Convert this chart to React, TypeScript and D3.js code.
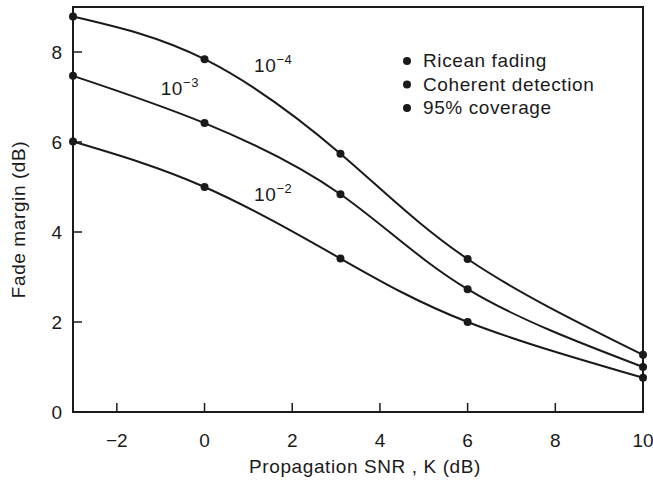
import React from "react";
import * as d3 from "d3";

const snrK = [-3, 0, 3.1, 6, 10];
const curve1e4 = [8.79, 7.84, 5.74, 3.4, 1.27];
const curve1e3 = [7.47, 6.42, 4.84, 2.73, 1.0];
const curve1e2 = [6.01, 5.0, 3.41, 2.0, 0.76];
const seriesExp = ["−4", "−3", "−2"];
const xTicks = [-2, 0, 2, 4, 6, 8, 10];
const yTicks = [0, 2, 4, 6, 8];
const legendItems = ["Ricean fading", "Coherent detection", "95% coverage"];

const W = 653;
const H = 484;
const left = 73;
const right = 643;
const top = 7;
const bottom = 412;
const font = "'Liberation Sans', Arial, Helvetica, sans-serif";
const ink = "#1a1a1a";
const ls = 0.6;

export default function App() {
  const x = d3.scaleLinear().domain([-3, 10]).range([left, right]);
  const y = d3.scaleLinear().domain([0, 9]).range([bottom, top]);
  const line = d3
    .line<number>()
    .x((_, i) => x(snrK[i]))
    .y((d) => y(d))
    .curve(d3.curveNatural);
  const series = [curve1e4, curve1e3, curve1e2];
  const labelPos = [
    { xv: 1.13, yv: 7.55 },
    { xv: -1.0, yv: 7.05 },
    { xv: 1.13, yv: 4.68 },
  ];
  return (
    <svg
      width={W}
      height={H}
      style={{ position: "absolute", left: 0, top: 0, background: "#fff" }}
      fontFamily={font}
    >
      <rect x={0} y={0} width={W} height={H} fill="#fff" />
      {series.map((s, k) => (
        <g key={k}>
          <path d={line(s) || ""} fill="none" stroke={ink} strokeWidth={2} />
          {s.map((v, i) => (
            <circle key={i} cx={x(snrK[i])} cy={y(v)} r={4} fill={ink} />
          ))}
        </g>
      ))}
      {series.map((_, k) => (
        <text
          key={k}
          x={x(labelPos[k].xv)}
          y={y(labelPos[k].yv)}
          fontSize={19}
          letterSpacing={ls}
          fill={ink}
        >
          10
          <tspan dy={-8} fontSize={13}>
            {seriesExp[k]}
          </tspan>
        </text>
      ))}
      <rect
        x={left}
        y={top}
        width={right - left}
        height={bottom - top}
        fill="none"
        stroke={ink}
        strokeWidth={2}
      />
      {xTicks.map((t) => (
        <g key={t}>
          <line x1={x(t)} x2={x(t)} y1={bottom} y2={bottom - 9} stroke={ink} strokeWidth={1.5} />
          <text x={x(t)} y={bottom + 35} textAnchor="middle" fontSize={19} fill={ink}>
            {t < 0 ? "−" + Math.abs(t) : String(t)}
          </text>
        </g>
      ))}
      {yTicks.map((t) => (
        <g key={t}>
          <line x1={left} x2={left + 9} y1={y(t)} y2={y(t)} stroke={ink} strokeWidth={1.5} />
          <text x={left - 11} y={y(t) + 7} textAnchor="end" fontSize={19} fill={ink}>
            {String(t)}
          </text>
        </g>
      ))}
      <text x={365} y={473} textAnchor="middle" fontSize={19} letterSpacing={ls} fill={ink}>
        Propagation SNR , K (dB)
      </text>
      <text
        transform={`translate(25, ${(top + bottom) / 2 + 10}) rotate(-90)`}
        textAnchor="middle"
        fontSize={19}
        letterSpacing={ls}
        fill={ink}
      >
        Fade margin (dB)
      </text>
      {legendItems.map((t, i) => (
        <g key={t}>
          <circle cx={407} cy={61 + i * 23.5} r={4} fill={ink} />
          <text x={423} y={67 + i * 23.5} fontSize={19} letterSpacing={ls} fill={ink}>
            {t}
          </text>
        </g>
      ))}
    </svg>
  );
}
